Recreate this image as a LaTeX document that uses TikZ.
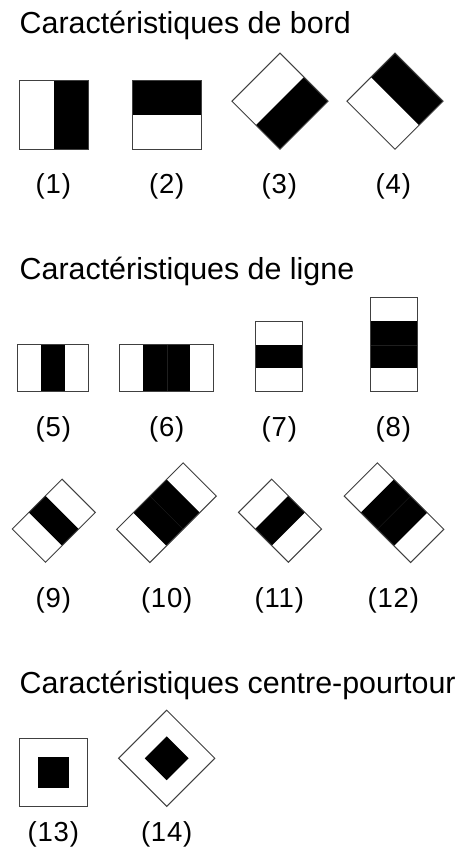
\documentclass[tikz,border=0pt]{standalone}
\usepackage{fontspec}
\setmainfont{Liberation Sans}
\newfontfamily\labfam[LetterSpace=3]{Liberation Sans}
\newcommand\ttlfont{\fontsize{30.4}{36}\selectfont}
\newcommand\labfont{\labfam\fontsize{27.5}{32}\selectfont}
\tikzset{
  frame/.style={draw=black!75, line width=1pt},
  ink/.style={fill=black},
  divider/.style={draw=black!88, line width=0.3pt},
  ttl/.style={anchor=base west, inner sep=0pt, font=\ttlfont},
  lab/.style={anchor=base, inner sep=0pt, font=\labfont}
}
% patterns, centred at the origin, local y pointing down
\newcommand\patEdge{\fill[ink] (0,-34) rectangle (34,34); \draw[frame] (-34,-34) rectangle (34,34);}
\newcommand\patFive{\fill[ink] (-11.75,-23.5) rectangle (11.75,23.5); \draw[frame] (-35.25,-23.5) rectangle (35.25,23.5);}
\newcommand\patSix{\fill[ink] (-23.5,-23.5) rectangle (23.5,23.5); \draw[divider] (0,-23.5) -- (0,23.5); \draw[frame] (-47,-23.5) rectangle (47,23.5);}
\newcommand\patCentre{\fill[ink] (-15.5,-15.5) rectangle (15.5,15.5); \draw[frame] (-34,-34) rectangle (34,34);}
\begin{document}
\begin{tikzpicture}[x=1pt,y=-1pt]
\useasboundingbox[fill=white] (0,0) rectangle (461,856);

% ---------- Section 1 ----------
\node[ttl] (t1) at (19.5,33.3) {Caractéristiques de bord};
\begin{scope}[shift={(53.8,115)}]
  \fill[ink] (0,-34.5) rectangle (34.5,34.5);
  \draw[frame] (-34.5,-34.5) rectangle (34.5,34.5);
\end{scope}
\begin{scope}[shift={(167,115)}]
  \fill[ink] (-34.5,-34.5) rectangle (34.5,0);
  \draw[frame] (-34.5,-34.5) rectangle (34.5,34.5);
\end{scope}
\begin{scope}[shift={(280,101.2)}, rotate=-45]\patEdge\end{scope}
\begin{scope}[shift={(395,101.2)}, rotate=45]\patEdge\end{scope}
\node[lab] (l1) at (53.3,193.6) {(1)};
\node[lab] (l2) at (166.7,193.6) {(2)};
\node[lab] (l3) at (279.3,193.6) {(3)};
\node[lab] (l4) at (393.3,193.6) {(4)};

% ---------- Section 2 ----------
\node[ttl] (t2) at (19.5,279.5) {Caractéristiques de ligne};
\begin{scope}[shift={(53,368.2)}]\patFive\end{scope}
\begin{scope}[shift={(166.7,368.2)}]\patSix\end{scope}
\begin{scope}[shift={(279.3,356.5)}, rotate=90]\patFive\end{scope}
\begin{scope}[shift={(393.7,344.7)}, rotate=90]\patSix\end{scope}
\node[lab] (l5) at (53.3,436.5) {(5)};
\node[lab] (l6) at (166.7,436.5) {(6)};
\node[lab] (l7) at (279.3,436.5) {(7)};
\node[lab] (l8) at (393.3,436.5) {(8)};

\begin{scope}[shift={(53.8,520.7)}, rotate=45]\patFive\end{scope}
\begin{scope}[shift={(166.5,512.7)}, rotate=45]\patSix\end{scope}
\begin{scope}[shift={(280,520.7)}, rotate=-45]\patFive\end{scope}
\begin{scope}[shift={(394,512.7)}, rotate=-45]\patSix\end{scope}
\node[lab] (l9) at (53.3,607.8) {(9)};
\node[lab] (l10) at (166.7,607.8) {(10)};
\node[lab] (l11) at (279.3,607.8) {(11)};
\node[lab] (l12) at (393.3,607.8) {(12)};

% ---------- Section 3 ----------
\node[ttl] (t3) at (19.5,693) {Caractéristiques centre-pourtour};
\begin{scope}[shift={(53.7,772)}]\patCentre\end{scope}
\begin{scope}[shift={(166.7,758.3)}, rotate=45]\patCentre\end{scope}
\node[lab] (l13) at (53.3,841.6) {(13)};
\node[lab] (l14) at (166.7,841.6) {(14)};
\end{tikzpicture}
\end{document}
